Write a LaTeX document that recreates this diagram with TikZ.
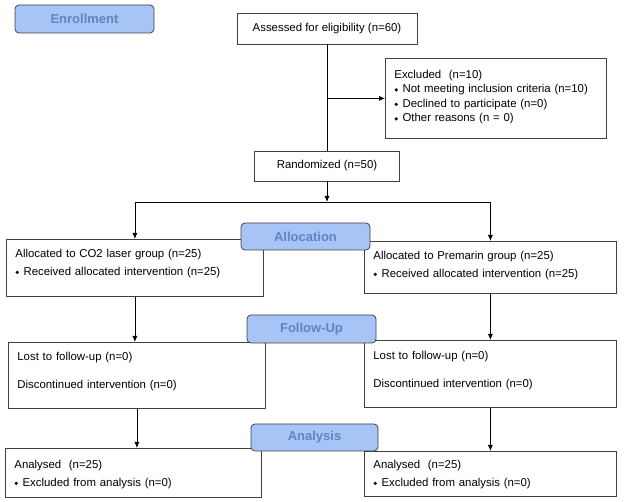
\documentclass[tikz,border=0pt]{standalone}
\usepackage{fontspec}
\setmainfont{Liberation Sans}
\usepackage{graphicx}
\usetikzlibrary{arrows.meta}

\definecolor{stagefill}{HTML}{A6C4F5}
\definecolor{stagetext}{HTML}{5F86BE}
\definecolor{boxline}{HTML}{404040}

\newcommand{\bul}{\raisebox{1.2pt}{\rotatebox{45}{\rule{2.6pt}{2.6pt}}}\hspace{4.5pt}}

\tikzset{
  box/.style={draw=boxline, line width=0.8pt, anchor=north west, align=left,
    inner xsep=9pt, inner ysep=0pt, font=\fontsize{11.4}{18}\selectfont},
  mid/.style={draw=boxline, line width=0.8pt, font=\fontsize{11.4}{14}\selectfont},
  stage/.style={draw=boxline, fill=stagefill, rounded corners=4pt, line width=0.8pt,
    text=stagetext, font=\fontsize{13}{15}\selectfont\bfseries,
    minimum width=128pt, minimum height=27pt},
  link/.style={line width=0.8pt, -{Latex[length=6pt,width=5pt]}},
}

\begin{document}
\begin{tikzpicture}[x=1pt, y=-1pt]
	\useasboundingbox (0,0) rectangle (625,502);
	
	% enrollment
	\node[mid, minimum width=180pt, minimum height=31pt] (assess) at (327,28.5) {Assessed for eligibility (n=60)};
	\node[box, text width=203pt, text height=20pt, text depth=60pt, font=\fontsize{11.4}{14.5}\selectfont] (excl) at (385,58)
		{Excluded\ \ (n=10)\\ \bul Not meeting inclusion criteria (n=10)\\ \bul Declined to participate (n=0)\\ \bul Other reasons (n = 0)};
	\node[mid, minimum width=145pt, minimum height=30pt] (rand) at (327,166) {Randomized (n=50)};
	\coordinate (split) at (327,202);
	
	% allocation
	\node[box, text width=239pt, text height=18pt, text depth=39pt] (allocL) at (6,239)
		{Allocated to CO2 laser group (n=25)\\ \bul Received allocated intervention (n=25)};
	\node[box, text width=234pt, text height=18pt, text depth=34pt] (allocR) at (364,241)
		{Allocated to Premarin group (n=25)\\ \bul Received allocated intervention (n=25)};
	
	% follow-up
	\node[box, text width=239pt, text height=18pt, text depth=48pt] (followL) at (8,342)
		{Lost to follow-up (n=0)\\[10pt] Discontinued intervention (n=0)};
	\node[box, text width=234pt, text height=19pt, text depth=48pt] (followR) at (364,340)
		{Lost to follow-up (n=0)\\[10pt] Discontinued intervention (n=0)};
	
	% analysis
	\node[box, text width=238pt, text height=20pt, text depth=29pt] (anaL) at (5,448)
		{Analysed\ \ (n=25)\\ \bul Excluded from analysis (n=0)};
	\node[box, text width=234pt, text height=17pt, text depth=28pt] (anaR) at (364,451)
		{Analysed\ \ (n=25)\\ \bul Excluded from analysis (n=0)};
	
	% connectors
	\draw[line width=0.8pt] (assess.south) -- (rand.north);
	\coordinate (branch) at (assess.south |- excl.west);
	\draw[link] (branch) -- (excl.west);
	\draw[link] (rand.south) -- (split);
	\draw[link] (split) -| (allocL.north);
	\draw[link] (split) -| (allocR.north);
	\draw[link] (allocL.south) -- (allocL.south |- followL.north);
	\draw[link] (allocR.south) -- (allocR.south |- followR.north);
	\draw[link] (followL.south) -- (followL.south |- anaL.north);
	\draw[link] (followR.south) -- (followR.south |- anaR.north);
	
	% stage labels
	\node[stage, minimum width=139pt, minimum height=28pt] (enrol) at (84.5,19) {Enrollment};
	\node[stage, minimum width=129pt] (alloc) at (305.5,236.5) {Allocation};
	\node[stage, minimum width=129pt, minimum height=28pt] (follow) at (311.5,329) {Follow-Up};
	\node[stage, minimum width=127pt] (ana) at (314.5,437.5) {Analysis};
\end{tikzpicture}
\end{document}
